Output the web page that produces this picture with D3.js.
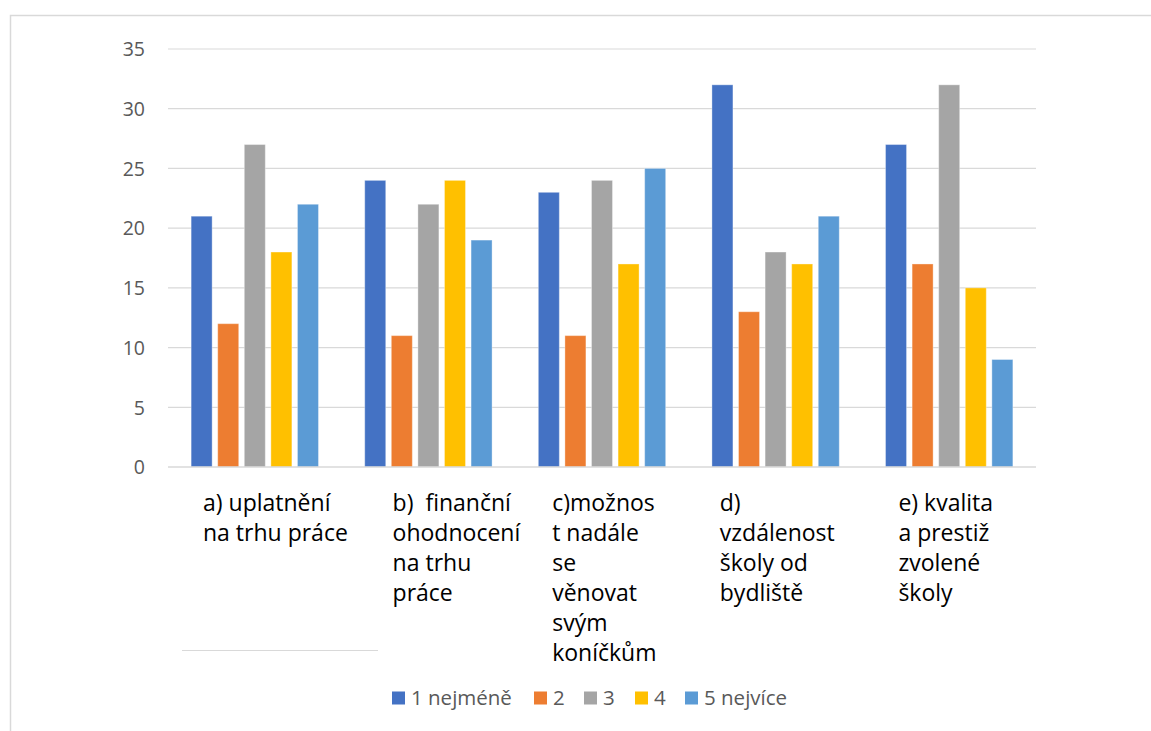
<!DOCTYPE html>
<html>
<head>
<meta charset="utf-8">
<script src="https://cdn.jsdelivr.net/npm/d3@7"></script>
<style>
  body { margin: 0; background: #fff; }
  svg { display: block; }
  text { font-family: "Open Sans", Lato, sans-serif; white-space: pre; }
</style>
</head>
<body>
<div id="chart"></div>
<script>
// kategorie (popisky zalomené do řádků jako v originále)
const categories = ["a", "b", "c", "d", "e"];
const categoryLines = [
  ["a) uplatnění", "na trhu práce"],
  ["b)  finanční", "ohodnocení", "na trhu", "práce"],
  ["c)možnos", "t nadále", "se", "věnovat", "svým", "koníčkům"],
  ["d)", "vzdálenost", "školy od", "bydliště"],
  ["e) kvalita", "a prestiž", "zvolené", "školy"]
];
const seriesNames = ["1 nejméně", "2", "3", "4", "5 nejvíce"];
const seriesColors = ["#4472C4", "#ED7D31", "#A5A5A5", "#FFC000", "#5B9BD5"];
// hodnoty: řádek = kategorie, sloupec = série
const values = [
  [21, 12, 27, 18, 22],
  [24, 11, 22, 24, 19],
  [23, 11, 24, 17, 25],
  [32, 13, 18, 17, 21],
  [27, 17, 32, 15, 9]
];
const yTicks = [0, 5, 10, 15, 20, 25, 30, 35];

const W = 1151, H = 731;
const plot = { left: 168, right: 1036, top: 49, bottom: 467 };

const svg = d3.select("#chart").append("svg")
  .attr("width", W)
  .attr("height", H);

// rámeček grafu
svg.append("path")
  .attr("d", `M10.5,${H} L10.5,15.5 L${W},15.5`)
  .attr("fill", "none")
  .attr("stroke", "#d9d9d9")
  .attr("stroke-width", 1.5);

// měřítka
const x = d3.scaleBand()
  .domain(categories)
  .range([plot.left, plot.right])
  .padding(0);

const xs = d3.scaleBand()
  .domain(seriesNames)
  .range([0, x.bandwidth()])
  .paddingInner(0.21)
  .paddingOuter(0.87);

const y = d3.scaleLinear()
  .domain([0, 35])
  .range([plot.bottom, plot.top]);

// mřížka
svg.append("g")
  .selectAll("line")
  .data(yTicks.filter(d => d > 0))
  .enter().append("line")
  .attr("x1", plot.left)
  .attr("x2", plot.right)
  .attr("y1", d => y(d))
  .attr("y2", d => y(d))
  .attr("stroke", "#d9d9d9")
  .attr("stroke-width", 1.2);

// popisky osy Y
const yAxis = d3.axisLeft(y).tickValues(yTicks).tickSize(0).tickPadding(0);
const gy = svg.append("g")
  .attr("transform", `translate(145,0)`)
  .call(yAxis);
gy.select(".domain").remove();
gy.selectAll("text")
  .attr("dy", "0.35em")
  .style("font-family", "'Open Sans', Lato, sans-serif")
  .style("font-size", "19.5px")
  .style("fill", "#595959");

// sloupce
const groups = svg.append("g")
  .selectAll("g")
  .data(categories)
  .enter().append("g")
  .attr("transform", d => `translate(${x(d)},0)`);

groups.selectAll("rect")
  .data((d, i) => values[i].map((v, j) => ({ series: seriesNames[j], value: v, color: seriesColors[j] })))
  .enter().append("rect")
  .attr("x", d => xs(d.series))
  .attr("width", xs.bandwidth())
  .attr("y", d => y(d.value))
  .attr("height", d => y(0) - y(d.value))
  .attr("fill", d => d.color)
  .attr("stroke", "#ffffff")
  .attr("stroke-opacity", 0.35)
  .attr("stroke-width", 1);

// osa X (čára)
svg.append("line")
  .attr("x1", plot.left)
  .attr("x2", plot.right)
  .attr("y1", y(0))
  .attr("y2", y(0))
  .attr("stroke", "#d9d9d9")
  .attr("stroke-width", 1.5);

// popisky kategorií – zarovnané vlevo, blok posunutý v rámci kategorie
const labelShift = [35, 51, 37, 31, 36];
const labels = svg.append("g")
  .selectAll("text")
  .data(categories)
  .enter().append("text")
  .attr("x", (d, i) => x(d) + labelShift[i])
  .attr("y", 511)
  .style("font-size", "23px")
  .style("fill", "#000");

labels.selectAll("tspan")
  .data((d, i) => categoryLines[i])
  .enter().append("tspan")
  .attr("x", function () { return d3.select(this.parentNode).attr("x"); })
  .attr("dy", (d, i) => i === 0 ? 0 : 30)
  .text(d => d);

// zbloudilá čára pod popisky
svg.append("line")
  .attr("x1", 182)
  .attr("x2", 378)
  .attr("y1", 650.5)
  .attr("y2", 650.5)
  .attr("stroke", "#d9d9d9")
  .attr("stroke-width", 1);

// legenda
const legendX = [392, 534, 584, 635, 685];
const legend = svg.append("g")
  .selectAll("g")
  .data(seriesNames)
  .enter().append("g")
  .attr("transform", (d, i) => `translate(${legendX[i]},698)`);

legend.append("rect")
  .attr("x", 0)
  .attr("y", -6.5)
  .attr("width", 13)
  .attr("height", 13)
  .attr("fill", (d, i) => seriesColors[i]);

legend.append("text")
  .attr("x", 19)
  .attr("dy", "0.35em")
  .style("font-size", "20.5px")
  .style("fill", "#595959")
  .text(d => d);
</script>
</body>
</html>
